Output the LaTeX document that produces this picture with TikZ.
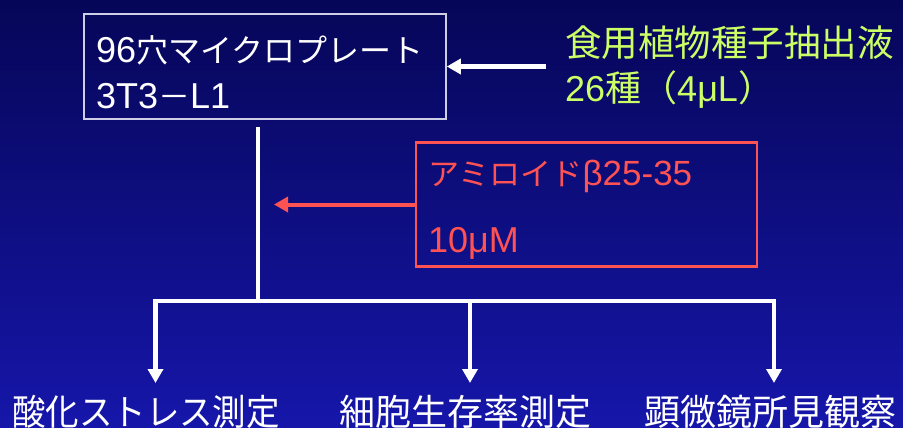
\documentclass[tikz,border=0pt]{standalone}
\usepackage{fontspec}
\setmainfont{Noto Sans CJK JP}
\newfontfamily\lat{Liberation Sans}
\newcommand{\latbig}[1]{{\lat\fontsize{36}{40}\selectfont #1}}
\usetikzlibrary{arrows.meta}
\definecolor{bgtop}{RGB}{6,6,88}
\definecolor{bgmid}{RGB}{0,0,150}
\definecolor{bgbot}{RGB}{22,22,170}
\definecolor{lime}{RGB}{204,255,102}
\definecolor{redl}{RGB}{255,82,82}
\definecolor{boxgray}{RGB}{205,205,230}
\tikzset{
  txt/.style={inner sep=0pt, anchor=base west, text=white},
  whiteflow/.style={draw=white, line width=4.5pt},
  whitearrow/.style={whiteflow, -{Triangle[length=14pt,width=15pt]}},
  redarrow/.style={draw=redl, line width=4pt, -{Triangle[length=14pt,width=15pt]}},
  label/.style={inner sep=0pt, anchor=base, text=white, font=\fontsize{36}{40}\selectfont},
}
\begin{document}
\begin{tikzpicture}[x=1pt,y=-1pt]
\useasboundingbox (0,0) rectangle (903,428);
\shade[top color=bgtop, middle color=bgmid, bottom color=bgbot] (0,0) rectangle (903,428);

% top box
\node[draw=boxgray, line width=1.6pt, minimum width=362pt, minimum height=105pt, inner sep=0pt] (plate) at (265,66.5) {};
\node[txt, font=\fontsize{32}{38}\selectfont] (t1) at (96,63) {\latbig{96}穴マイクロプレート};
\node[txt, font=\fontsize{32}{38}\selectfont] (t2) at (96,108) {\latbig{3T3}－\latbig{L1}};

% green text
\node[txt, text=lime, font=\fontsize{36.5}{40}\selectfont] (g1) at (565,57) {食用植物種子抽出液};
\node[txt, text=lime, font=\fontsize{36}{40}\selectfont] (g2) at (565,102) {{\lat 26}種（{\lat 4μL}）};
\coordinate (gsrc) at (546,66.5);
\draw[whitearrow] (gsrc) -- (plate.east);

% red box
\node[draw=redl, line width=2.5pt, minimum width=341pt, minimum height=124pt, inner sep=0pt] (amy) at (586.5,204.5) {};
\node[txt, text=redl, font=\fontsize{31}{38}\selectfont] (r1) at (428,185) {アミロイド{\lat\fontsize{35}{38}\selectfont β25-35}};
\node[txt, text=redl, font=\fontsize{32}{38}\selectfont] (r2) at (428,252) {\latbig{10μM}};
\coordinate (rtip) at (274,204.5);
\draw[redarrow] (amy.west) -- (rtip);

% main flow
\coordinate (vtop) at (258,127);
\coordinate (split) at (258,301);
\coordinate (hl) at (155.5,301);
\coordinate (hm) at (470,301);
\coordinate (hr) at (774,301);
\draw[whiteflow] (vtop) -- (split);
\draw[whiteflow, line cap=rect] (hl) -- (hr);

\node[label] (o1) at (146,425) {\scalebox{0.93}[1]{酸化ストレス測定}};
\node[label] (o2) at (465,425) {細胞生存率測定};
\node[label] (o3) at (770,425) {顕微鏡所見観察};

\coordinate (a1) at (155.5,383);
\coordinate (a2) at (470,383);
\coordinate (a3) at (774,383);
\draw[whitearrow] (hl) -- (a1);
\draw[whitearrow] (hm) -- (a2);
\draw[whitearrow] (hr) -- (a3);
\end{tikzpicture}
\end{document}
